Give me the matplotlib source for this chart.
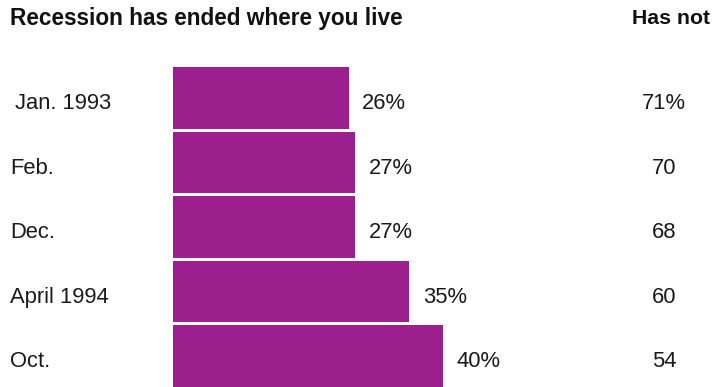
import matplotlib.pyplot as plt

# Data
periods = ["Jan. 1993", "Feb.", "Dec.", "April 1994", "Oct."]
ended = [26, 27, 27, 35, 40]
has_not = [71, 70, 68, 60, 54]
ended_labels = ["26%", "27%", "27%", "35%", "40%"]
has_not_labels = ["71%", "70", "68", "60", "54"]

plt.rcParams['font.family'] = ['Liberation Sans', 'DejaVu Sans']

W, H = 723, 387
fig = plt.figure(figsize=(W / 100, H / 100), dpi=100)

# axes starts at bar left edge; 6.75 px per percent point
px_per = 6.75
left_px = 173
ax = fig.add_axes([left_px / W, 0, 1 - left_px / W, 1])
ax.set_xlim(0, (W - left_px) / px_per)
pitch = 64.5
first_c = 98
ax.set_ylim((H - first_c) / pitch, -first_c / pitch)
ax.axis('off')

ypos = list(range(len(periods)))
ax.barh(ypos, ended, height=0.96, color='#9c1f8e', edgecolor='none')

fs = 15.8
for i, (p, v, lab, hn) in enumerate(zip(periods, ended, ended_labels, has_not_labels)):
    xlab = 15 if i == 0 else 10
    ax.text((xlab - left_px) / px_per, i + 0.09, p, fontsize=fs,
            ha='left', va='center', color='#1a1a1a', clip_on=False)
    ax.text(v + 2.0, i + 0.09, lab, fontsize=fs, ha='left', va='center',
            color='#1a1a1a')
    ax.text((664 - left_px) / px_per, i + 0.09, hn, fontsize=fs,
            ha='center', va='center', color='#1a1a1a')

fig.text(10 / W, 1 - 19 / H, "Recession has ended where you live",
         fontsize=16.3, fontweight='bold', ha='left', va='center', color='#111111')
fig.text(671 / W, 1 - 19 / H, "Has not",
         fontsize=15.3, fontweight='bold', ha='center', va='center', color='#111111')

fig.savefig("out.png", dpi=100)
